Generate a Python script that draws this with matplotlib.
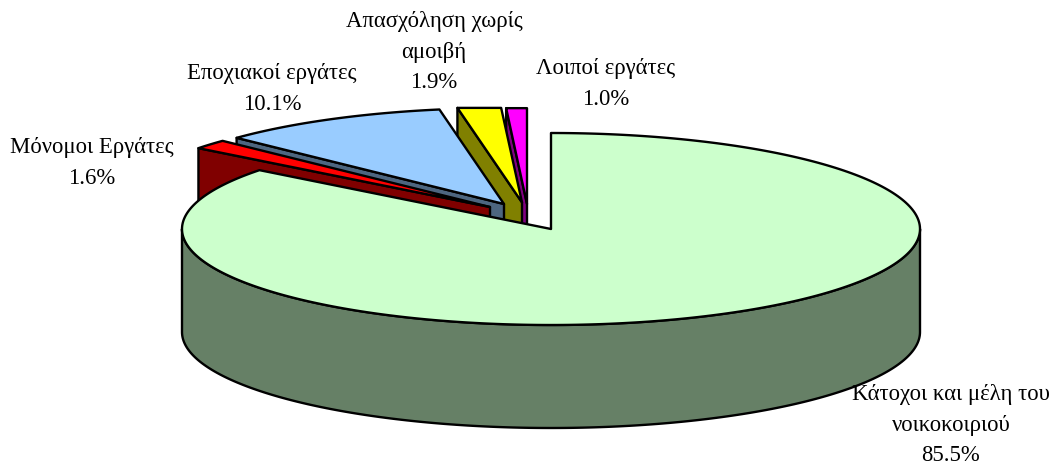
import numpy as np
import matplotlib
matplotlib.use('Agg')
import matplotlib.pyplot as plt
from matplotlib.patches import Polygon

plt.rcParams['font.family'] = ['Liberation Serif', 'DejaVu Serif']

# Data, clockwise from 12 o'clock
categories = ['Κάτοχοι και μέλη του\nνοικοκοιριού', 'Μόνομοι Εργάτες', 'Εποχιακοί εργάτες',
              'Απασχόληση χωρίς\nαμοιβή', 'Λοιποί εργάτες']
percents = [85.5, 1.6, 10.1, 1.9, 1.0]

# Styling
top_colors = ['#ccffcc', '#ff0000', '#99ccff', '#ffff00', '#ff00ff']
side_colors = ['#668066', '#800000', '#4d6680', '#808000', '#800080']
# pixel shift of each slice (exploded look)
shifts = [(0, 0), (-61, -22), (-47, -25), (-29, -26.6), (-24, -25)]
label_pos = [(951, 384), (92, 137), (272, 63), (434, 11), (606, 58)]

cx, cy = 551, 229
rx, ry = 369, 96
depth = 103
lw = 1.7


def pt(angle, dx=0, dy=0):
    # angle in degrees, clockwise from the top of the ellipse
    a = np.radians(angle)
    return np.column_stack((cx + dx + rx * np.sin(a), cy + dy - ry * np.cos(a)))


fig = plt.figure(figsize=(10.54, 4.65), dpi=100)
ax = fig.add_axes([0, 0, 1, 1])
ax.set_xlim(0, 1054)
ax.set_ylim(465, 0)
ax.axis('off')

# slice limits in degrees; the labels add up to 100.1 so the last one is cut at 360
edges = np.minimum(np.concatenate(([0], np.cumsum(percents))) * 3.6, 360)

# small slices, back to front, main slice goes last
for i in [4, 3, 2, 1]:
    dx, dy = shifts[i]
    start, end = edges[i], edges[i + 1]
    apex = np.array([[cx + dx, cy + dy]])
    # wall under the left cut edge of the slice
    edge = np.vstack((pt(start, dx, dy), apex))
    wall = np.vstack((edge, edge[::-1] + [0, depth]))
    ax.add_patch(Polygon(wall, closed=True, fc=side_colors[i], ec='black', lw=lw, joinstyle='round'))
    arc = pt(np.linspace(start, end, 30), dx, dy)
    if i >= 3:
        # the two narrow slices have a flat outer edge
        arc[:, 1] = arc[:, 1].max()
    ax.add_patch(Polygon(np.vstack((apex, arc)), closed=True, fc=top_colors[i], ec='black', lw=lw,
                         joinstyle='round'))

# main slice: outer wall along the front of the ellipse, then the top face
front = pt(np.linspace(90, 270, 200))
wall = np.vstack((front, front[::-1] + [0, depth]))
ax.add_patch(Polygon(wall, closed=True, fc=side_colors[0], ec='black', lw=lw, joinstyle='round'))
arc = pt(np.linspace(edges[0], edges[1], 300))
ax.add_patch(Polygon(np.vstack(([[cx, cy]], arc)), closed=True, fc=top_colors[0], ec='black', lw=lw,
                     joinstyle='round'))

for name, value, (x, y) in zip(categories, percents, label_pos):
    ax.text(x, y, '%s\n%.1f%%' % (name, value), ha='center', va='top',
            fontsize=16.4, linespacing=1.6, color='black', clip_on=False)

fig.savefig('out.png', dpi=100)
